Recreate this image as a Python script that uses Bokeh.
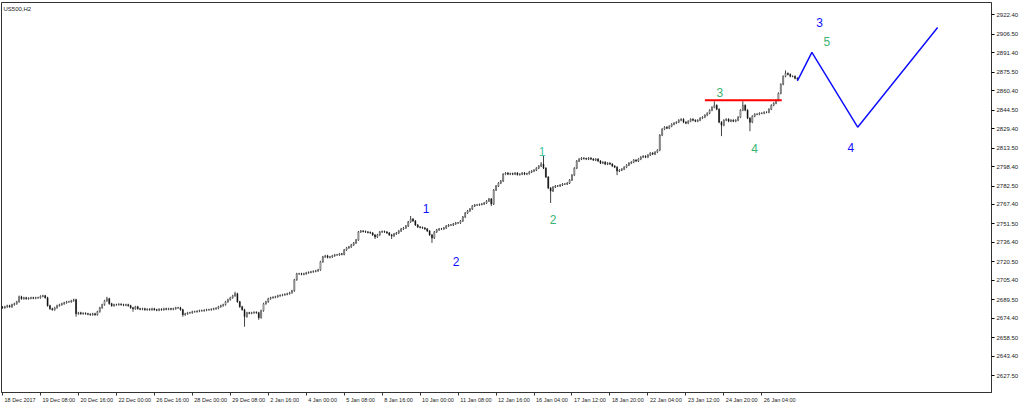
from bokeh.plotting import figure
from bokeh.models import FixedTicker, Label, Range1d, ColumnDataSource, NumeralTickFormatter
from bokeh.embed import file_html
from bokeh.resources import INLINE
from bokeh.core.properties import value

# ---- data (US500, H2 closes) ----
closes = [
    2682.9, 2683.7, 2684.6, 2683.7, 2685.4, 2686.2, 2687.8, 2691.9, 2690.3, 2691.1,
    2690.3, 2690.7, 2691.1, 2690.7, 2691.1, 2691.1, 2692.3, 2692.7, 2691.1, 2684.6,
    2682.1, 2681.3, 2682.9, 2684.6, 2685.4, 2686.2, 2687.0, 2687.8, 2687.8, 2688.6,
    2689.5, 2678.0, 2678.8, 2678.0, 2678.4, 2678.0, 2677.6, 2677.2, 2678.0, 2677.2,
    2679.7, 2682.9, 2685.4, 2688.6, 2690.3, 2686.2, 2684.6, 2685.4, 2685.4, 2685.8,
    2685.4, 2685.0, 2685.4, 2684.6, 2682.9, 2682.1, 2683.7, 2682.1, 2681.7, 2682.1,
    2681.3, 2681.7, 2681.3, 2682.1, 2681.3, 2680.9, 2681.7, 2681.3, 2682.1, 2681.7,
    2682.1, 2681.7, 2682.1, 2682.9, 2682.9, 2681.3, 2677.2, 2678.0, 2678.8, 2678.8,
    2679.7, 2679.7, 2680.1, 2680.5, 2680.5, 2680.9, 2681.3, 2681.3, 2681.7, 2682.1,
    2682.5, 2683.7, 2684.6, 2685.4, 2687.8, 2689.5, 2691.1, 2692.7, 2694.4, 2687.8,
    2683.7, 2681.3, 2675.6, 2678.8, 2678.4, 2678.8, 2679.2, 2678.8, 2674.8, 2680.5,
    2686.2, 2687.8, 2690.3, 2691.1, 2691.5, 2691.9, 2692.7, 2693.1, 2693.5, 2693.9,
    2694.4, 2695.2, 2696.8, 2705.8, 2710.7, 2710.7, 2710.3, 2710.7, 2711.5, 2711.9,
    2712.3, 2712.7, 2713.1, 2713.9, 2720.5, 2724.5, 2725.4, 2724.1, 2724.5, 2725.4,
    2726.2, 2726.2, 2727.0, 2726.6, 2730.2, 2731.9, 2732.7, 2734.3, 2735.9, 2738.4,
    2744.9, 2745.7, 2745.3, 2744.9, 2744.5, 2744.1, 2742.5, 2740.8, 2742.5, 2744.9,
    2745.3, 2744.9, 2744.1, 2742.5, 2741.7, 2743.3, 2744.1, 2745.7, 2747.4, 2748.2,
    2749.8, 2753.1, 2755.5, 2753.9, 2750.6, 2749.0, 2748.6, 2748.2, 2747.4, 2745.7,
    2742.5, 2740.0, 2744.9, 2746.6, 2747.4, 2747.4, 2748.2, 2749.8, 2750.6, 2750.6,
    2751.5, 2752.3, 2752.3, 2753.9, 2757.2, 2760.4, 2762.1, 2763.7, 2766.1, 2767.0,
    2767.0, 2767.4, 2767.8, 2768.6, 2770.2, 2771.9, 2767.8, 2779.2, 2782.5, 2784.9,
    2786.6, 2792.2, 2793.1, 2792.2, 2792.6, 2792.2, 2793.1, 2791.8, 2792.2, 2793.1,
    2792.2, 2792.6, 2793.9, 2794.7, 2795.5, 2797.1, 2798.8, 2800.4, 2797.1, 2789.8,
    2780.8, 2778.4, 2781.6, 2782.5, 2782.5, 2783.3, 2784.1, 2784.1, 2784.9, 2787.4,
    2791.4, 2797.1, 2802.9, 2804.5, 2805.3, 2804.9, 2804.5, 2805.3, 2804.5, 2803.7,
    2804.5, 2802.9, 2801.2, 2802.0, 2800.4, 2801.2, 2800.4, 2798.8, 2797.9, 2794.7,
    2795.5, 2796.3, 2797.9, 2799.6, 2801.2, 2802.0, 2803.7, 2802.9, 2804.5, 2806.1,
    2806.9, 2806.1, 2807.8, 2809.4, 2808.6, 2810.2, 2811.8, 2824.1, 2829.0, 2830.6,
    2829.8, 2831.4, 2833.0, 2833.9, 2834.7, 2836.3, 2837.1, 2834.7, 2833.9, 2835.5,
    2837.1, 2836.3, 2835.5, 2836.3, 2838.0, 2838.8, 2840.4, 2842.0, 2844.5, 2846.9,
    2848.5, 2845.3, 2834.7, 2832.2, 2836.3, 2837.1, 2835.5, 2836.3, 2835.5, 2836.3,
    2838.8, 2844.5, 2848.5, 2844.5, 2838.0, 2834.7, 2839.6, 2841.2, 2841.2, 2842.0,
    2842.0, 2842.8, 2842.8, 2845.3, 2848.5, 2850.2, 2852.6, 2858.3, 2865.7, 2872.2,
    2874.6, 2873.8, 2872.2, 2872.2, 2870.6, 2869.8,
]
first_open = 2683.5
wick = 0.8
spike_high = {7: 2692.9, 44: 2691.9, 98: 2696.0, 172: 2758.0, 227: 2802.0,
              228: 2807.8, 300: 2851.8, 312: 2851.8, 330: 2877.1}
spike_low = {31: 2675.6, 55: 2679.7, 76: 2675.6, 102: 2667.4, 108: 2673.1,
             157: 2739.2, 164: 2739.2, 181: 2736.0, 206: 2766.1, 231: 2768.6,
             259: 2791.4, 303: 2823.3, 315: 2827.3}

y_ticks = [2922.4, 2906.5, 2891.4, 2875.5, 2860.4, 2844.5, 2829.4, 2813.5, 2798.4,
           2782.5, 2767.4, 2751.5, 2736.4, 2720.5, 2705.4, 2689.5, 2674.4, 2658.5,
           2643.4, 2627.5]
x_tick_labels = ["18 Dec 2017", "19 Dec 08:00", "20 Dec 16:00", "22 Dec 00:00",
                 "26 Dec 16:00", "28 Dec 00:00", "29 Dec 08:00", "2 Jan 16:00",
                 "4 Jan 00:00", "5 Jan 08:00", "8 Jan 16:00", "10 Jan 00:00",
                 "11 Jan 08:00", "12 Jan 16:00", "16 Jan 04:00", "17 Jan 12:00",
                 "18 Jan 20:00", "22 Jan 04:00", "23 Jan 12:00", "24 Jan 20:00",
                 "26 Jan 04:00"]
bars_per_label = 16

# projection (Elliott wave path) in bar index / price
proj_x = [335, 341.1, 360.4, 394.1]
proj_y = [2868.5, 2891.8, 2830.6, 2912.2]

resistance_x = [296, 328.4]
resistance_y = [2852.6, 2852.6]

wave_text = ["1", "2", "1", "2", "3", "4", "5", "3", "4"]
wave_x = [178.5, 191.2, 227.4, 232.0, 302.3, 317.0, 347.4, 344.4, 357.5]
wave_y = [2764.5, 2720.5, 2811.0, 2755.5, 2859.1, 2813.5, 2900.8, 2916.3, 2814.3]
wave_color = ["#1010ff", "#1010ff", "#44c4a2", "#3cb371", "#3cb371", "#3cb371",
              "#3cb371", "#1010ff", "#1010ff"]

# ---- build OHLC ----
n = len(closes)
idx = list(range(n))
opens = [first_open] + closes[:-1]
highs, lows, tops, bots, fills = [], [], [], [], []
for i in idx:
    o, c = opens[i], closes[i]
    highs.append(spike_high.get(i, max(o, c) + wick))
    lows.append(spike_low.get(i, min(o, c) - wick))
    tops.append(max(o, c))
    bots.append(min(o, c))
    fills.append("white" if c >= o else "black")

src = ColumnDataSource(dict(x=idx, o=opens, c=closes, h=highs, l=lows,
                            top=tops, bot=bots, fill=fills))

FW, FH = 990, 390
X0, X1 = -0.42, 416.8
p = figure(frame_width=FW, frame_height=FH, output_backend="svg",
           toolbar_location=None, x_axis_location="below", y_axis_location="right",
           x_range=Range1d(X0, X1), y_range=Range1d(2613.6, 2932.6),
           min_border_left=1, min_border_top=2, min_border_right=0, min_border_bottom=0)
p.grid.visible = False
p.outline_line_color = "#333333"
p.background_fill_color = "white"
p.border_fill_color = "white"

p.segment(x0="x", y0="l", x1="x", y1="h", source=src, line_color="#111111", line_width=0.8)
p.vbar(x="x", width=0.42, top="top", bottom="bot", source=src,
       fill_color="fill", line_color="#222222", line_width=0.5)

p.line(resistance_x, resistance_y, line_color="red", line_width=2)
p.line(proj_x, proj_y, line_color="#1010ff", line_width=1.5)

p.text(x=wave_x, y=wave_y, text=wave_text, text_color=wave_color,
       text_font=value("Liberation Sans"), text_font_size="12px",
       text_align="center", text_baseline="middle")

# axes
ya = p.yaxis[0]
ya.ticker = FixedTicker(ticks=y_ticks)
ya.formatter = NumeralTickFormatter(format="0.00")
ya.major_label_text_font = "Liberation Sans"
ya.major_label_text_font_size = "6px"
ya.major_label_text_color = "#222222"
ya.major_tick_out = 3
ya.major_tick_in = 0
ya.minor_tick_out = 0
ya.minor_tick_in = 0
ya.major_label_standoff = 2
ya.axis_line_color = "#333333"

# x axis: tick marks at the real bar positions (as minor ticks), labels centred
# on positions shifted right so that each label starts just after its tick.
XFS = 5.5
char_w = {" ": 0.278, ":": 0.278, "D": 0.722, "J": 0.5, "e": 0.556, "c": 0.5,
          "a": 0.556, "n": 0.556}
px_per_bar = FW / (X1 - X0)
tick_pos = [k * bars_per_label for k in range(len(x_tick_labels))]
label_pos = []
for t, lab in zip(tick_pos, x_tick_labels):
    w = sum(char_w.get(ch, 0.556) for ch in lab) * XFS
    label_pos.append(t + (w / 2 + 2) / px_per_bar)

xa = p.xaxis[0]
xa.ticker = FixedTicker(ticks=label_pos, minor_ticks=tick_pos)
xa.major_label_overrides = {lp: lab for lp, lab in zip(label_pos, x_tick_labels)}
xa.major_label_text_font = "Liberation Sans"
xa.major_label_text_font_size = f"{XFS}px"
xa.major_label_text_color = "#222222"
xa.major_tick_out = 0
xa.major_tick_in = 0
xa.minor_tick_out = 3
xa.minor_tick_in = 0
xa.minor_tick_line_color = "#333333"
xa.major_label_standoff = 1
xa.axis_line_color = "#333333"

p.add_layout(Label(x=2, y=FH - 3, x_units="screen", y_units="screen", text="US500,H2",
                   text_font="Liberation Sans", text_font_size="6px",
                   text_color="#222222", text_baseline="top"))

open("out.html", "w").write(file_html(p, INLINE))
